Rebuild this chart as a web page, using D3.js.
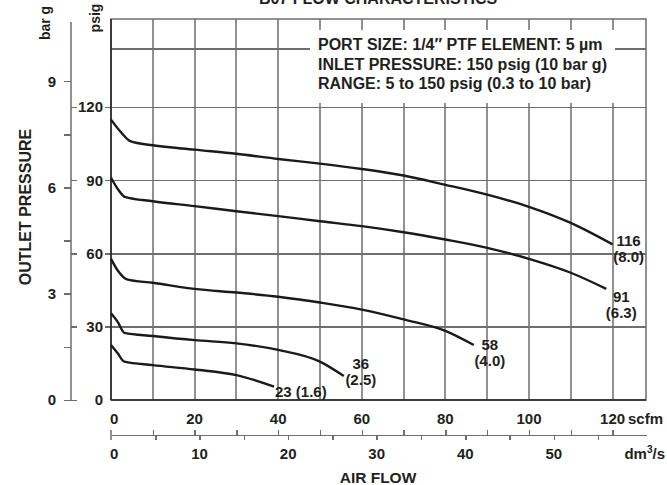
<!DOCTYPE html>
<html>
<head>
<meta charset="utf-8">
<script src="https://cdn.jsdelivr.net/npm/d3@7/dist/d3.min.js"></script>
<style>
  body { margin: 0; background: #fff; }
  text { font-family: "Liberation Sans", Arial, sans-serif; font-weight: bold; fill: #231f20; }
  .grid line, .grid path { stroke: #6e6e6e; stroke-width: 1.5; shape-rendering: crispEdges; }
</style>
</head>
<body>
<script>
// Curve data (flow in scfm, outlet pressure in psig)
var flow116 = [0, 2.5, 4.6, 10, 20, 30, 40, 50, 60, 70, 80, 90, 100, 110, 120];
var psig116 = [114.8, 109.4, 106, 104.3, 102.5, 100.8, 98.7, 96.8, 94.6, 91.9, 88.1, 84.1, 79.1, 72.5, 63.7];

var flow91 = [0, 1.7, 3.3, 10, 20, 30, 40, 50, 60, 70, 80, 90, 100, 110, 118.5];
var psig91 = [91, 86.2, 83.2, 81.4, 79.4, 77.3, 75.3, 73.2, 71.2, 68.7, 65.7, 62.3, 57.8, 52.1, 45.5];

var flow58 = [0, 1.7, 3.8, 10, 20, 30, 40, 50, 60, 70, 80, 86.8];
var psig58 = [57.8, 52.8, 49.4, 48, 45.5, 44, 42.3, 39.9, 37, 33, 28.3, 22.5];

var flow36 = [0, 1.6, 3.2, 10, 20, 30, 40, 50, 55.7];
var psig36 = [35.5, 32, 27.5, 26.2, 24.5, 23.2, 20.5, 15.7, 9.8];

var flow23 = [0, 1.6, 3.2, 10, 20, 30, 39];
var psig23 = [22.5, 19.1, 15.7, 14.3, 12.5, 10.2, 5.5];

var curveLabels = [["116", "(8.0)"], ["91", "(6.3)"], ["58", "(4.0)"], ["36", "(2.5)"], ["23 (1.6)"]];

// Tick values
var scfmTicks = [0, 20, 40, 60, 80, 100, 120];
var scfmGrid = [10, 20, 30, 40, 50, 60, 70, 80, 90, 100, 110, 120];
var dmTicks = [0, 10, 20, 30, 40, 50];
var dmMinor = [5, 10, 15, 20, 25, 30, 35, 40, 45, 50, 55];
var psigTicks = [0, 30, 60, 90, 120];
var psigGrid = [30, 60, 90, 120, 144];
var barTicks = [0, 1.5, 3, 4.5, 6, 7.5, 9];
var barLabels = [0, 3, 6, 9];

var title = "B07 FLOW CHARACTERISTICS";
var infoLines = [
  "PORT SIZE: 1/4\u2033 PTF  ELEMENT: 5 \u00b5m",
  "INLET PRESSURE: 150 psig (10 bar g)",
  "RANGE: 5 to 150 psig (0.3 to 10 bar)"
];

var PSI_PER_BAR = 14.5038, DM_PER_SCFM = 0.4719;

var width = 667, height = 485;
var plot = { left: 111, right: 646, top: 19, bottom: 400 };

// Scales
var x = d3.scaleLinear().domain([0, 128]).range([plot.left, plot.right]);
var y = d3.scaleLinear().domain([0, 156]).range([plot.bottom, plot.top]);
var yBar = d3.scaleLinear().domain([0, 156 / PSI_PER_BAR]).range([plot.bottom, plot.top]);
var xDm = d3.scaleLinear().domain([0, 128 * DM_PER_SCFM]).range([plot.left, plot.right]);

var svg = d3.select("body").append("svg")
  .attr("width", width)
  .attr("height", height);

var gridColor = "#6e6e6e";

// Title, cut by the top of the picture
svg.append("text")
  .attr("x", 378).attr("y", 4)
  .attr("text-anchor", "middle")
  .style("font-size", "16px")
  .text(title);

// Vertical grid
svg.append("g").attr("class", "grid")
  .selectAll("rect").data(scfmGrid).enter().append("rect")
  .attr("x", function(d) { return Math.round(x(d)) - 0.75; })
  .attr("y", plot.top)
  .attr("width", 1.5)
  .attr("height", plot.bottom - plot.top)
  .attr("fill", gridColor);

// Horizontal grid, ticks stick out 6px left of the frame
svg.append("g")
  .attr("class", "grid")
  .attr("transform", "translate(" + (plot.left - 6) + ",0)")
  .call(d3.axisRight(y).tickValues(psigGrid.slice(0, 4)).tickSize(plot.right - plot.left + 6).tickFormat(""))
  .call(function(g) { g.select(".domain").remove(); });
svg.append("g")
  .attr("class", "grid")
  .attr("transform", "translate(" + plot.left + ",0)")
  .call(d3.axisRight(y).tickValues(psigGrid.slice(4)).tickSize(plot.right - plot.left).tickFormat(""))
  .call(function(g) { g.select(".domain").remove(); });

// Frame: top and right grey, left and bottom dark
svg.append("rect")
  .attr("x", plot.left).attr("y", plot.top)
  .attr("width", plot.right - plot.left).attr("height", plot.bottom - plot.top)
  .attr("fill", "none").attr("stroke", gridColor).attr("stroke-width", 1.5);
svg.append("rect")
  .attr("x", plot.left - 0.75).attr("y", plot.top)
  .attr("width", 1.5).attr("height", plot.bottom - plot.top)
  .attr("fill", "#231f20");
svg.append("rect")
  .attr("x", plot.left).attr("y", plot.bottom - 0.75)
  .attr("width", plot.right - plot.left).attr("height", 1.5)
  .attr("fill", "#231f20");

// Info box
svg.append("rect")
  .attr("x", 310).attr("y", 30).attr("width", 305).attr("height", 73)
  .attr("fill", "#fff");
svg.selectAll("text.info").data(infoLines).enter().append("text")
  .attr("class", "info")
  .attr("x", 318)
  .attr("y", function(d, i) { return 50 + i * 19.5; })
  .style("font-size", "16px")
  .text(function(d) { return d; });

// Curves
var curves = [
  { flow: flow116, psig: psig116 },
  { flow: flow91, psig: psig91 },
  { flow: flow58, psig: psig58 },
  { flow: flow36, psig: psig36 },
  { flow: flow23, psig: psig23 }
];

var line = d3.line()
  .curve(d3.curveMonotoneX)
  .x(function(d) { return x(d[0]); })
  .y(function(d) { return y(d[1]); });

svg.selectAll("path.curve").data(curves).enter().append("path")
  .attr("class", "curve")
  .attr("d", function(d) { return line(d3.zip(d.flow, d.psig)); })
  .attr("fill", "none")
  .attr("stroke", "#1a1a1a")
  .attr("stroke-width", 2.4);

// Curve labels placed against each curve end
var labelOffset = [
  { dx: 16, dy: 2, anchor: "middle" },
  { dx: 15, dy: 13, anchor: "middle" },
  { dx: 16, dy: 5, anchor: "middle" },
  { dx: 17, dy: -7.5, anchor: "middle" },
  { dx: 1, dy: 10, anchor: "start" }
];

curves.forEach(function(c, i) {
  var n = c.flow.length - 1;
  var px = x(c.flow[n]) + labelOffset[i].dx;
  var py = y(c.psig[n]) + labelOffset[i].dy;
  svg.selectAll("text.lab" + i).data(curveLabels[i]).enter().append("text")
    .attr("class", "lab" + i)
    .attr("x", px)
    .attr("y", function(d, j) { return py + j * 16; })
    .attr("text-anchor", labelOffset[i].anchor)
    .style("font-size", "15px")
    .text(function(d) { return d; });
});

// psig axis labels
svg.selectAll("text.psig").data(psigTicks).enter().append("text")
  .attr("class", "psig")
  .attr("x", 103)
  .attr("y", function(d) { return y(d); })
  .attr("dy", "0.36em")
  .attr("text-anchor", "end")
  .style("font-size", "15px")
  .text(function(d) { return d; });

// bar g axis: bar ticks to the left, psig ticks to the right
var barX = 71;
svg.append("rect")
  .attr("x", barX - 0.75).attr("y", 22)
  .attr("width", 1.5).attr("height", plot.bottom - 22)
  .attr("fill", gridColor);
svg.append("g")
  .attr("class", "grid")
  .attr("transform", "translate(" + barX + ",0)")
  .call(d3.axisLeft(yBar).tickValues(barTicks).tickSize(7).tickSizeOuter(0).tickFormat(""))
  .call(function(g) { g.select(".domain").remove(); });
svg.append("g")
  .attr("class", "grid")
  .attr("transform", "translate(" + barX + ",0)")
  .call(d3.axisRight(y).tickValues(psigTicks).tickSize(6).tickFormat(""))
  .call(function(g) { g.select(".domain").remove(); });
svg.selectAll("text.bar").data(barLabels).enter().append("text")
  .attr("class", "bar")
  .attr("x", 56)
  .attr("y", function(d) { return yBar(d); })
  .attr("dy", "0.36em")
  .attr("text-anchor", "end")
  .style("font-size", "15px")
  .text(function(d) { return d; });

// Unit labels on the left
svg.append("text")
  .attr("transform", "translate(50,23) rotate(-90)")
  .attr("text-anchor", "middle")
  .style("font-size", "14px")
  .text("bar g");
svg.append("text")
  .attr("transform", "translate(100,18) rotate(-90)")
  .attr("text-anchor", "middle")
  .style("font-size", "14px")
  .text("psig");
svg.append("text")
  .attr("transform", "translate(31,207) rotate(-90)")
  .attr("text-anchor", "middle")
  .style("font-size", "16px")
  .text("OUTLET PRESSURE");

// scfm labels
svg.selectAll("text.scfm").data(scfmTicks).enter().append("text")
  .attr("class", "scfm")
  .attr("x", function(d) { return d === 0 ? x(d) - 1 : x(d); })
  .attr("y", 424)
  .attr("text-anchor", function(d) { return d === 0 ? "start" : "middle"; })
  .style("font-size", "15px")
  .text(function(d) { return d; });
svg.append("text")
  .attr("x", 628).attr("y", 424)
  .style("font-size", "15px")
  .text("scfm");

// dm3/s axis: scfm ticks above, dm3/s ticks below
var dmY = 435;
svg.append("g")
  .attr("class", "grid")
  .attr("transform", "translate(0," + dmY + ")")
  .call(d3.axisTop(x).tickValues(scfmGrid).tickSize(5).tickSizeOuter(0).tickFormat(""));
svg.append("g")
  .attr("class", "grid")
  .attr("transform", "translate(0," + dmY + ")")
  .call(d3.axisBottom(xDm).tickValues(dmMinor).tickSize(5).tickSizeOuter(0).tickFormat(""))
  .call(function(g) { g.select(".domain").remove(); });
svg.append("rect")
  .attr("x", plot.left - 0.75).attr("y", dmY - 5)
  .attr("width", 1.5).attr("height", 10)
  .attr("fill", gridColor);
svg.selectAll("text.dm").data(dmTicks).enter().append("text")
  .attr("class", "dm")
  .attr("x", function(d) { return d === 0 ? xDm(d) - 1 : xDm(d); })
  .attr("y", 459)
  .attr("text-anchor", function(d) { return d === 0 ? "start" : "middle"; })
  .style("font-size", "15px")
  .text(function(d) { return d; });
var unit = svg.append("text")
  .attr("x", 665).attr("y", 459)
  .attr("text-anchor", "end")
  .style("font-size", "15px");
unit.append("tspan").text("dm");
unit.append("tspan").attr("dy", -6).style("font-size", "10px").text("3");
unit.append("tspan").attr("dy", 6).text("/s");

svg.append("text")
  .attr("x", 378).attr("y", 483)
  .attr("text-anchor", "middle")
  .style("font-size", "15.5px")
  .text("AIR FLOW");
</script>
</body>
</html>
